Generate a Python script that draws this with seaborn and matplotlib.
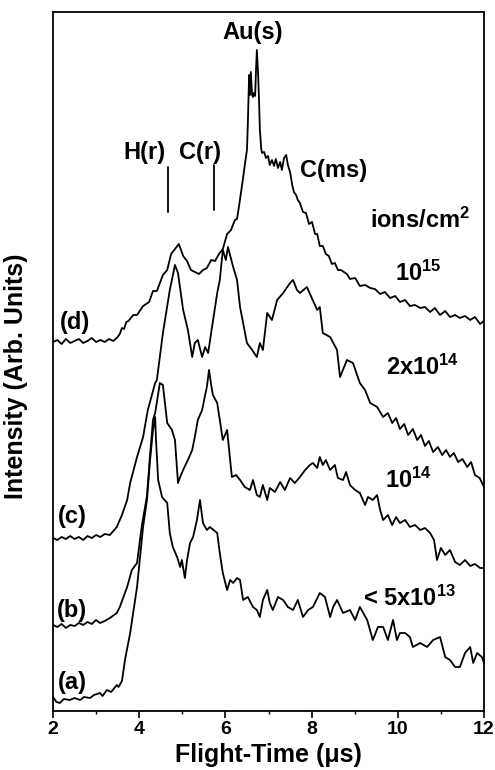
import matplotlib
matplotlib.use("Agg")
import matplotlib.pyplot as plt
import seaborn as sns
import pandas as pd

# ---- data: flight time (us) and intensity (arb. units, offset spectra) ----
x_d = [2.0, 2.1, 2.2, 2.3, 2.4, 2.5, 2.6, 2.7, 2.8, 2.9, 3.0, 3.1, 3.2, 3.3, 3.4, 3.5, 3.55, 3.6, 3.65, 3.7,
       3.75, 3.86, 3.95, 4.09, 4.23, 4.32, 4.41, 4.55, 4.65, 4.74, 4.83, 4.92, 5.02, 5.11, 5.20, 5.29, 5.39,
       5.48, 5.57, 5.67, 5.76, 5.85, 5.94, 6.04, 6.13, 6.22, 6.27, 6.32, 6.36, 6.41, 6.45, 6.50, 6.52, 6.55,
       6.57, 6.59, 6.62, 6.64, 6.66, 6.69, 6.71, 6.73, 6.76, 6.78, 6.80, 6.83, 6.85, 6.90, 6.94, 6.99, 7.03,
       7.08, 7.13, 7.17, 7.22, 7.27, 7.31, 7.36, 7.41, 7.45, 7.50, 7.55, 7.59, 7.64, 7.68, 7.73, 7.80, 7.87,
       7.94, 8.01, 8.08, 8.13, 8.19, 8.26, 8.33, 8.40, 8.47, 8.54, 8.61, 8.68, 8.75, 8.82, 8.89, 9.01, 9.12,
       9.24, 9.36, 9.47, 9.59, 9.70, 9.82, 9.94, 10.05, 10.17, 10.28, 10.40, 10.52, 10.63, 10.75, 10.86,
       10.98, 11.10, 11.21, 11.33, 11.44, 11.56, 11.68, 11.79, 11.91, 12.0]
y_d = [369, 371, 367, 372, 368, 370, 372, 368, 370, 373, 369, 371, 369, 372, 370, 374, 377, 383, 382, 389,
       390, 396, 396, 405, 409, 420, 420, 436, 441, 457, 462, 467, 455, 450, 441, 439, 437,
       441, 443, 451, 450, 457, 462, 477, 481, 491, 492, 506, 518, 533, 546, 561, 586, 636,
       616, 639, 616, 614, 618, 615, 641, 661, 636, 611, 581, 563, 558, 559, 553, 555, 546,
       551, 545, 552, 543, 549, 541, 553, 556, 546, 539, 526, 519, 516, 511, 508, 499, 498,
       487, 489, 477, 477, 465, 465, 457, 455, 447, 448, 441, 441, 439, 437, 432, 433, 425,
       426, 423, 422, 417, 419, 413, 415, 409, 411, 405, 406, 403, 404, 399, 403,
       396, 400, 394, 396, 393, 395, 391, 394, 387, 390]

x_c = [2.0, 2.1, 2.2, 2.3, 2.4, 2.5, 2.6, 2.7, 2.8, 2.9, 3.0, 3.1, 3.2, 3.32, 3.48, 3.60, 3.72, 3.79, 3.95,
       4.09, 4.20, 4.37, 4.41, 4.55, 4.71, 4.83, 4.90, 5.02, 5.13, 5.23, 5.29, 5.36, 5.46, 5.53, 5.60, 5.69,
       5.81, 5.87, 5.94, 6.01, 6.06, 6.18, 6.27, 6.34, 6.50, 6.62, 6.73, 6.80, 6.87, 6.97, 7.08, 7.20, 7.34,
       7.50, 7.57, 7.66, 7.73, 7.89, 8.13, 8.19, 8.26, 8.43, 8.59, 8.66, 8.82, 8.96, 9.12, 9.24, 9.36, 9.52,
       9.66, 9.77, 9.87, 9.96, 10.05, 10.15, 10.24, 10.35, 10.45, 10.54, 10.63, 10.72, 10.82, 10.93, 11.03,
       11.12, 11.21, 11.30, 11.40, 11.50, 11.61, 11.70, 11.79, 11.90, 12.0]
y_c = [173, 171, 174, 172, 175, 172, 174, 171, 175, 173, 176, 174, 177, 176, 184, 196, 211, 228, 254,
       274, 301, 328, 331, 378, 421, 446, 438, 401, 381, 354, 368, 371, 354, 364, 358, 384,
       418, 431, 461, 451, 464, 444, 431, 404, 368, 361, 354, 368, 361, 398, 391, 411, 418,
       428, 431, 421, 418, 424, 401, 404, 378, 374, 361, 334, 351, 348, 328, 321, 308, 304,
       294, 298, 288, 293, 282, 287, 276, 282, 271, 276, 265, 270, 259, 264, 256,
       261, 254, 258, 249, 252, 244, 249, 236, 233, 224]

x_b = [2.0, 2.1, 2.2, 2.3, 2.4, 2.5, 2.6, 2.7, 2.8, 2.9, 3.0, 3.09, 3.2, 3.32, 3.48, 3.55, 3.72, 3.83, 3.95,
       4.06, 4.18, 4.25, 4.32, 4.37, 4.48, 4.55, 4.65, 4.76, 4.83, 4.90, 4.95, 5.04, 5.13, 5.23, 5.29, 5.36,
       5.46, 5.53, 5.57, 5.62, 5.67, 5.71, 5.81, 5.87, 5.94, 6.04, 6.11, 6.15, 6.25, 6.34, 6.45, 6.57, 6.64,
       6.73, 6.80, 6.87, 6.97, 7.03, 7.15, 7.27, 7.38, 7.50, 7.61, 7.73, 7.85, 7.96, 8.03, 8.13, 8.19, 8.26,
       8.33, 8.43, 8.54, 8.61, 8.73, 8.80, 8.89, 9.01, 9.12, 9.24, 9.31, 9.42, 9.52, 9.59, 9.66, 9.77, 9.87,
       9.96, 10.05, 10.17, 10.28, 10.40, 10.52, 10.63, 10.75, 10.84, 10.91, 11.00, 11.10, 11.21, 11.33,
       11.44, 11.56, 11.68, 11.79, 11.91, 12.0]
y_b = [86, 84, 87, 83, 86, 85, 88, 86, 89, 87, 91, 88, 90, 93, 98, 104, 124, 141, 148,
       185, 215, 255, 291, 298, 328, 326, 288, 281, 271, 228, 234, 243, 251, 261, 274, 291,
       301, 316, 324, 341, 326, 316, 308, 291, 271, 281, 251, 234, 236, 231, 224, 221, 231,
       216, 214, 226, 211, 223, 219, 229, 221, 233, 228, 234, 241, 246, 248, 243, 254, 246,
       251, 241, 246, 233, 231, 239, 226, 221, 218, 206, 214, 211, 216, 201, 191, 196, 186,
       194, 188, 191, 184, 186, 181, 183, 178, 171, 151, 163, 156, 161, 149,
       146, 151, 145, 147, 143, 143]

x_a = [2.0, 2.08, 2.16, 2.25, 2.39, 2.5, 2.63, 2.72, 2.86, 2.95, 3.09, 3.15, 3.25, 3.35, 3.48, 3.52, 3.6,
       3.67, 3.79, 3.95, 4.09, 4.18, 4.25, 4.32, 4.37, 4.39, 4.44, 4.53, 4.65, 4.71, 4.78, 4.88, 4.95, 4.99,
       5.06, 5.11, 5.18, 5.25, 5.34, 5.41, 5.48, 5.57, 5.64, 5.81, 5.87, 5.94, 6.04, 6.11, 6.18, 6.27, 6.34,
       6.41, 6.52, 6.64, 6.73, 6.80, 6.87, 6.97, 7.03, 7.10, 7.22, 7.34, 7.45, 7.57, 7.68, 7.80, 7.92, 8.03,
       8.19, 8.31, 8.43, 8.50, 8.59, 8.73, 8.89, 9.01, 9.12, 9.29, 9.42, 9.54, 9.66, 9.77, 9.89, 9.98, 10.05,
       10.17, 10.28, 10.35, 10.52, 10.68, 10.82, 10.98, 11.10, 11.21, 11.33, 11.44, 11.56, 11.68, 11.75,
       11.84, 11.95, 12.0]
y_a = [14, 9, 8, 12, 11, 13, 11, 14, 13, 16, 18, 15, 21, 19, 26, 24, 30,
       51, 78, 124, 184, 211, 250, 281, 294, 271, 231, 214, 208, 178, 164, 154, 144, 151,
       133, 151, 168, 174, 191, 211, 188, 181, 184, 178, 158, 138, 121, 131, 128, 133, 131,
       111, 114, 104, 101, 94, 111, 121, 108, 101, 114, 111, 104, 101, 111, 94, 101, 104,
       118, 114, 94, 104, 111, 98, 101, 91, 104, 91, 71, 84, 84, 71, 91, 71, 78,
       78, 74, 64, 68, 64, 71, 74, 54, 51, 44, 44, 58, 64, 48,
       58, 54, 48]

curve_ids = ["(d)", "(c)", "(b)", "(a)"]
doses = ["10$^{15}$", "2x10$^{14}$", "10$^{14}$", "< 5x10$^{13}$"]
peak_labels = ["H(r)", "C(r)", "Au(s)", "C(ms)"]
x_ticks = [2, 4, 6, 8, 10, 12]

# ---- style ----
sns.set_theme(style="ticks")
plt.rcParams["font.family"] = ["Liberation Sans", "DejaVu Sans"]
plt.rcParams["font.weight"] = "bold"
plt.rcParams["text.color"] = "black"
plt.rcParams["axes.labelcolor"] = "black"
plt.rcParams["xtick.color"] = "black"
plt.rcParams["ytick.color"] = "black"
plt.rcParams["axes.edgecolor"] = "black"
plt.rcParams["mathtext.fontset"] = "custom"
plt.rcParams["mathtext.rm"] = "Liberation Sans:bold"
plt.rcParams["mathtext.bf"] = "Liberation Sans:bold"
plt.rcParams["mathtext.default"] = "bf"

fig = plt.figure(figsize=(4.95, 7.7), dpi=100)
ax = fig.add_axes([53 / 495, 59 / 770, 431 / 495, 699 / 770])

frames = []
for name, xs, ys in [("d", x_d, y_d), ("c", x_c, y_c), ("b", x_b, y_b), ("a", x_a, y_a)]:
    frames.append(pd.DataFrame({"t": xs, "I": ys, "curve": name}))
df = pd.concat(frames, ignore_index=True)

for name in ["d", "c", "b", "a"]:
    sub = df[df["curve"] == name]
    sns.lineplot(data=sub, x="t", y="I", ax=ax, color="black", linewidth=1.3,
                 sort=False, estimator=None, legend=False)

ax.set_xlim(2, 12)
ax.set_ylim(0, 699)
ax.set_xticks(x_ticks)
ax.set_xticks(range(3, 12, 2), minor=True)
ax.set_yticks([])
ax.tick_params(axis="x", which="major", direction="out", length=5, width=1.2,
               labelsize=14, pad=2, colors="black")
ax.tick_params(axis="x", which="minor", direction="out", length=2.5, width=1.0, colors="black")
for lab in ax.get_xticklabels():
    lab.set_fontweight("bold")
for sp in ax.spines.values():
    sp.set_visible(True)
    sp.set_linewidth(1.3)
    sp.set_color("black")

ax.set_xlabel("Flight-Time (μs)", fontsize=18, fontweight="bold", labelpad=4, color="black")
ax.set_ylabel("Intensity (Arb. Units)", fontsize=18, fontweight="bold", color="black")
ax.yaxis.set_label_coords(-0.058, 0.479)

fs = 17
# peak labels
ax.text(4.13, 559, peak_labels[0], ha="center", va="center", fontsize=fs, fontweight="bold")
ax.text(5.41, 559, peak_labels[1], ha="center", va="center", fontsize=fs, fontweight="bold")
ax.text(6.64, 678, peak_labels[2], ha="center", va="center", fontsize=fs, fontweight="bold")
ax.text(8.50, 541, peak_labels[3], ha="center", va="center", fontsize=fs, fontweight="bold")
ax.plot([4.67, 4.67], [499, 544], color="black", lw=1.3)
ax.plot([5.74, 5.74], [501, 546], color="black", lw=1.3)

# dose labels
ax.text(10.52, 491, "ions/cm$^{2}$", ha="center", va="center", fontsize=fs, fontweight="bold")
dose_pos = [(10.47, 438), (10.58, 344), (10.24, 231), (10.28, 113)]
for (px, py), txt in zip(dose_pos, doses):
    ax.text(px, py, txt, ha="center", va="center", fontsize=fs, fontweight="bold")

# curve ids
id_pos = [(2.51, 389), (2.44, 194), (2.44, 101), (2.44, 28)]
for (px, py), txt in zip(id_pos, curve_ids):
    ax.text(px, py, txt, ha="center", va="center", fontsize=fs, fontweight="bold")

fig.savefig("out.png", dpi=100)
